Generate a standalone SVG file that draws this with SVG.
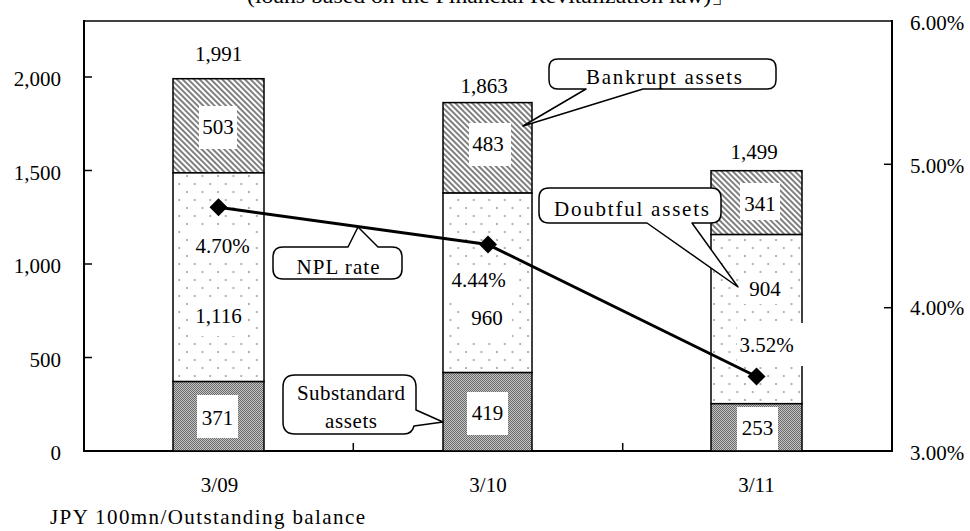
<svg xmlns="http://www.w3.org/2000/svg" width="970" height="531" viewBox="0 0 970 531">
<defs>
<style>
text{font-family:"Liberation Serif","Times New Roman",serif;font-size:21px;fill:#000}
.mid{text-anchor:middle}
.end{text-anchor:end}
.ax{stroke:#000;stroke-width:2;fill:none}
.tick{stroke:#000;stroke-width:1.5}
.bar{stroke:#000;stroke-width:1.5}
.wb{fill:#fff;stroke:none}
.call{fill:#fff;stroke:#000;stroke-width:1.5;stroke-linejoin:round}
</style>
<pattern id="hatch" width="4" height="4" patternUnits="userSpaceOnUse" patternTransform="rotate(-45)">
<rect width="4" height="4" fill="#fff"/>
<line x1="1" y1="0" x2="1" y2="4" stroke="#555" stroke-width="1.5"/>
</pattern>
<pattern id="dots" width="15.5" height="16" patternUnits="userSpaceOnUse">
<rect width="15.5" height="16" fill="#fff"/>
<rect x="0.3" y="-0.7" width="1.4" height="1.4" fill="#666"/>
<rect x="8.05" y="7.3" width="1.4" height="1.4" fill="#666"/>
<rect x="0.3" y="15.3" width="1.4" height="1.4" fill="#666"/>
</pattern>
<pattern id="check" width="2" height="2" patternUnits="userSpaceOnUse">
<rect width="2" height="2" fill="#c4c4c4"/>
<rect width="1" height="1" fill="#6a6a6a"/>
<rect x="1" y="1" width="1" height="1" fill="#6a6a6a"/>
</pattern>
<path id="diamond" d="M0,-9 L9,0 L0,9 L-9,0 Z" fill="#000"/>
</defs>
<rect width="970" height="531" fill="#fff"/>

<text id="title" x="491" y="2.5" class="mid" textLength="488" lengthAdjust="spacingAndGlyphs">(loans based on the Financial Revitalization law)」</text>

<g id="axes">
<line class="ax" x1="84" y1="21" x2="892" y2="21" style="stroke-width:1.3"/>
<line class="ax" x1="84" y1="20" x2="84" y2="452"/>
<line class="ax" x1="892" y1="20" x2="892" y2="452"/>
<line class="ax" x1="83" y1="451" x2="893" y2="451"/>
<line class="tick" x1="84" y1="77" x2="92" y2="77"/>
<line class="tick" x1="84" y1="170.5" x2="92" y2="170.5"/>
<line class="tick" x1="84" y1="264" x2="92" y2="264"/>
<line class="tick" x1="84" y1="357.5" x2="92" y2="357.5"/>
<line class="tick" x1="884" y1="164.3" x2="892" y2="164.3"/>
<line class="tick" x1="884" y1="307.7" x2="892" y2="307.7"/>
<line class="tick" x1="353.3" y1="443" x2="353.3" y2="451"/>
<line class="tick" x1="622.7" y1="443" x2="622.7" y2="451"/>
<text x="61" y="86" class="end">2,000</text>
<text x="61" y="180" class="end">1,500</text>
<text x="61" y="273" class="end">1,000</text>
<text x="61" y="367" class="end">500</text>
<text x="61" y="460" class="end">0</text>
<text x="910" y="30">6.00%</text>
<text x="910" y="173">5.00%</text>
<text x="910" y="315">4.00%</text>
<text x="910" y="460">3.00%</text>
<text x="219.5" y="492" class="mid">3/09</text>
<text x="488" y="492" class="mid">3/10</text>
<text x="756.5" y="492" class="mid">3/11</text>
<text x="50" y="524" textLength="315" lengthAdjust="spacing">JPY 100mn/Outstanding balance</text>
</g>

<g id="bar-3-09">
<rect class="bar" x="173" y="78.7" width="91" height="94.2" fill="url(#hatch)"/>
<rect class="bar" x="173" y="172.9" width="91" height="208.7" fill="url(#dots)"/>
<rect class="bar" x="173" y="381.6" width="91" height="69.4" fill="url(#check)"/>
<rect class="wb" x="199" y="106" width="38" height="43"/>
<rect class="wb" x="193" y="231" width="60" height="30"/>
<rect class="wb" x="193" y="302" width="51" height="34"/>
<rect class="wb" x="197" y="395" width="41" height="43"/>
<text x="218.5" y="61" class="mid">1,991</text>
<text x="218" y="134" class="mid">503</text>
<text x="222.5" y="253" class="mid">4.70%</text>
<text x="218.5" y="323" class="mid">1,116</text>
<text x="217.5" y="425" class="mid">371</text>
</g>

<g id="bar-3-10">
<rect class="bar" x="443" y="102.6" width="89" height="90.5" fill="url(#hatch)"/>
<rect class="bar" x="443" y="193.1" width="89" height="179.5" fill="url(#dots)"/>
<rect class="bar" x="443" y="372.6" width="89" height="78.4" fill="url(#check)"/>
<rect class="wb" x="469" y="123" width="42" height="43"/>
<rect class="wb" x="446" y="266" width="70" height="32"/>
<rect class="wb" x="463" y="302" width="49" height="36"/>
<rect class="wb" x="467" y="392" width="41" height="43"/>
<text x="484" y="93" class="mid">1,863</text>
<text x="488" y="151" class="mid">483</text>
<text x="478.5" y="287" class="mid">4.44%</text>
<text x="487" y="325" class="mid">960</text>
<text x="487.5" y="420" class="mid">419</text>
</g>

<g id="bar-3-11">
<rect class="bar" x="711" y="170.7" width="91" height="63.9" fill="url(#hatch)"/>
<rect class="bar" x="711" y="234.6" width="91" height="169.1" fill="url(#dots)"/>
<rect class="bar" x="711" y="403.7" width="91" height="47.3" fill="url(#check)"/>
<rect class="wb" x="740" y="183" width="40" height="37"/>
<rect class="wb" x="744" y="274" width="44" height="30"/>
<rect class="wb" x="737" y="323" width="66" height="43"/>
<rect class="wb" x="737" y="407" width="41" height="43"/>
<text x="754" y="159" class="mid">1,499</text>
<text x="760" y="211" class="mid">341</text>
<text x="765" y="296" class="mid">904</text>
<text x="766.5" y="352" class="mid">3.52%</text>
<text x="757.5" y="435" class="mid">253</text>
</g>

<g id="connectors">
<polyline points="218.5,207.3 488,244.6 756.5,376.5" fill="none" stroke="#000" stroke-width="3" stroke-linejoin="round"/>
<use href="#diamond" x="218.5" y="207.3"/>
<use href="#diamond" x="488" y="244.6"/>
<use href="#diamond" x="756.5" y="376.5"/>
</g>

<g id="callout-bankrupt">
<path class="call" d="M558,59 H767 Q776,59 776,68 V80 Q776,89 767,89 H643 L523,126 L586,89 H558 Q549,89 549,80 V68 Q549,59 558,59 Z"/>
<text x="664" y="84" class="mid" textLength="156" lengthAdjust="spacing">Bankrupt assets</text>
</g>

<g id="callout-npl">
<path class="call" d="M283,247 H348 L358,227 L378,247 H392 Q402,247 402,257 V269 Q402,279 392,279 H283 Q273,279 273,269 V257 Q273,247 283,247 Z"/>
<text x="338" y="274" class="mid" textLength="83" lengthAdjust="spacing">NPL rate</text>
</g>

<g id="callout-doubtful">
<path class="call" d="M549,188 H711 Q721,188 721,198 V213 Q721,223 711,223 H692 L738,287 L647,223 H549 Q539,223 539,213 V198 Q539,188 549,188 Z"/>
<text x="631.5" y="216" class="mid" textLength="155" lengthAdjust="spacing">Doubtful assets</text>
</g>

<g id="callout-substandard">
<path class="call" d="M295,375 H404 Q416,375 416,387 V410 L443,422 L414,426 Q412,434 404,434 H295 Q283,434 283,422 V387 Q283,375 295,375 Z"/>
<text x="351" y="400" class="mid" textLength="108" lengthAdjust="spacing">Substandard</text>
<text x="351" y="428" class="mid" textLength="52" lengthAdjust="spacing">assets</text>
</g>
</svg>
